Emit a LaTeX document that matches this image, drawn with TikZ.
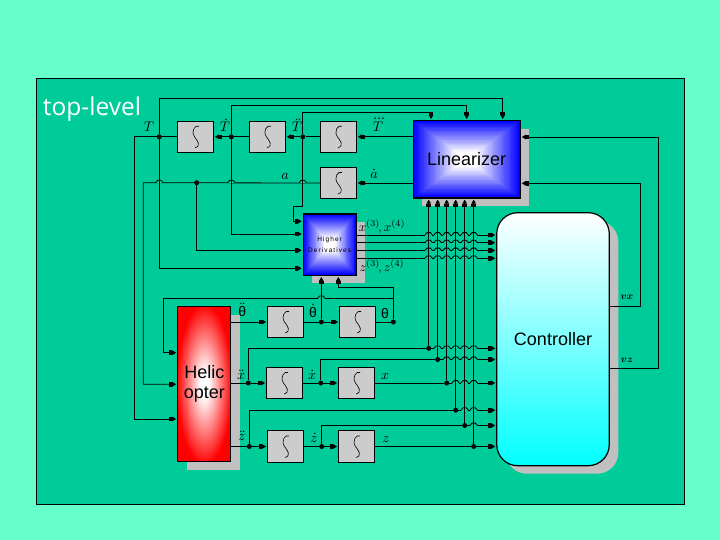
\documentclass[tikz,border=0pt]{standalone}
\usepackage{amsmath}
\usepackage{fontspec}
\setmainfont{Liberation Sans}
\newfontfamily\handfont{Open Sans}
\usetikzlibrary{calc, arrows.meta, shadows}
\definecolor{pagegreen}{HTML}{66FFCC}
\definecolor{panelgreen}{HTML}{00CC99}
\definecolor{boxgrey}{HTML}{CCCCCC}
\definecolor{shadegrey}{HTML}{C0C0C0}
\pgfdeclareradialshading{helifill}{\pgfpoint{0bp}{0bp}}{color(0bp)=(white); color(4bp)=(white); color(26bp)=(red); color(50bp)=(red)}
\tikzset{
    wiretip/.tip={Square[length=3pt,width=4.5pt,sep=0pt]Triangle[length=4pt,width=4.5pt]},
    wire/.style={line width=0.8pt},
    tipwire/.style={wire, shorten >=1pt},
    dropgrey/.style={drop shadow={shadow xshift=9pt, shadow yshift=-8pt, opacity=1, fill=shadegrey}},
    jdot/.style={circle, fill=black, inner sep=0pt, minimum size=5pt},
    intbox/.style={draw, fill=boxgrey, line width=0.9pt, inner sep=0pt, minimum width=36pt, minimum height=31.5pt,
        path picture={\draw[line width=0.6pt, shift={(path picture bounding box.center)}]
            (3.5,-10.5) .. controls (0,-12.5) and (-5,-6) .. (-1,0) .. controls (2,4) and (6,9) .. (-0.5,11);}},
    pyrbox/.style={draw, line width=1.2pt, inner sep=0pt, dropgrey,
        path picture={
            \coordinate (pbl) at (path picture bounding box.south west);
            \coordinate (ptr) at (path picture bounding box.north east);
            \foreach \k in {0,...,24}{
                \pgfmathsetmacro{\tint}{100-\k*100/24}
                \fill[blue!\tint!white] ($(pbl)!\k/60!(ptr)$) rectangle ($(ptr)!\k/60!(pbl)$);
            }}},
    wirehop/.pic={
        \draw[panelgreen, line width=1.6pt] (-3.4,0) -- (3.4,0);
        \draw[wire] (0,-3) -- (0,3);
        \draw[wire] (-3.6,0) .. controls (-2.6,-0.3) and (-2.8,-2.4) .. (-1.6,-2.4) -- (1.6,-2.4) .. controls (2.8,-2.4) and (2.6,-0.3) .. (3.6,0);
    }
}

\begin{document}
\begin{tikzpicture}[
    x=1pt, y=-1pt,
    >=wiretip,
    lbl/.style={inner sep=0pt, scale=1.4}
]

    % Page and panel
    \useasboundingbox (0,0) rectangle (720,540);
    \fill[pagegreen] (0,0) rectangle (720,540);
    \fill[panelgreen, draw=black, line width=0.8pt] (36.5,78.5) rectangle (684.5,504);
    \node[white, inner sep=0pt, font=\handfont\fontsize{24.5}{24.5}\selectfont] (title) at (92,109.5) {top-level};

    % Blocks
    \node[pyrbox, minimum width=107pt, minimum height=77.5pt] (lin) at (466.7,159.3) {\fontsize{18}{18}\selectfont Linearizer};
    \node[pyrbox, minimum width=53pt, minimum height=61.5pt, align=center] (hider) at (329.7,244.7)
        {\fontsize{6.5}{9}\selectfont H\,i\,g\,h\,e\,r\\[-0.5pt]\fontsize{6.5}{9}\selectfont D\,e\,r\,i\,v\,a\,t\,i\,v\,e\,s};
    \node[draw, line width=1.2pt, shading=helifill, dropgrey, minimum width=53pt, minimum height=155pt, inner sep=0pt, align=center,
        font=\fontsize{18}{20}\selectfont] (heli) at (204.3,384.3) {Helic\\opter};
    \node[draw, line width=1.2pt, top color=white, bottom color=cyan, rounded corners=21pt, dropgrey, minimum width=112.5pt, minimum height=253pt,
        inner sep=0pt, font=\fontsize{18}{18}\selectfont] (ctrl) at (553,339.2) {Controller};

    % Integrators
    \node[intbox] (intT) at (195.5,136.8) {};
    \node[intbox] (intTd) at (267.4,136.8) {};
    \node[intbox] (intTdd) at (338.4,136.8) {};
    \node[intbox] (inta) at (338.4,183) {};
    \node[intbox] (intthd) at (285.5,322) {};
    \node[intbox] (intth) at (357.5,322) {};
    \node[intbox] (intxd) at (284.5,383) {};
    \node[intbox] (intx) at (356.5,383) {};
    \node[intbox] (intzd) at (285.5,446.5) {};
    \node[intbox] (intz) at (356.5,446.5) {};

    % Junctions
    \node[jdot] (jT) at (159.3,136.8) {};
    \node[jdot] (jTd) at (231.3,136.8) {};
    \node[jdot] (jTdd) at (302.8,136.8) {};
    \node[jdot] (ja) at (196.7,182.7) {};
    \node[jdot] (jth) at (321.3,322) {};
    \node[jdot] (jthe) at (393.3,322) {};
    \node[jdot] (jxdd) at (248.3,383) {};
    \node[jdot] (jxd) at (320.7,383) {};
    \node[jdot] (jzdd) at (249.3,446.5) {};
    \node[jdot] (jzd) at (321.7,446.5) {};
    \node[jdot] (jL1) at (428.7,348.3) {};
    \node[jdot] (jL2) at (437.7,359.5) {};
    \node[jdot] (jL3) at (446.7,383) {};
    \node[jdot] (jL4) at (455.7,410.2) {};
    \node[jdot] (jL5) at (464.7,425.5) {};
    \node[jdot] (jL6) at (473.7,446.5) {};

    % Routing corners
    \coordinate (topT) at (502.7,98.3);
    \coordinate (topTd) at (466.7,105.3);
    \coordinate (topTdd) at (431,112.7);
    \coordinate (leftT) at (134.3,136.8);
    \coordinate (lefta) at (143.3,182.7);
    \coordinate (hdA) at (293.3,206);
    \coordinate (hdB) at (338.3,287.7);
    \coordinate (back) at (163.3,298.3);
    \coordinate (vxc) at (640.3,306);
    \coordinate (vzc) at (658.3,368.3);

    % T chain
    \draw[tipwire, ->] (lin.west |- intTdd) -- (intTdd.east);
    \draw[wire] (intTdd.west) -- (jTdd);
    \draw[tipwire, ->] (jTdd) -- (intTd.east);
    \draw[wire] (intTd.west) -- (jTd);
    \draw[tipwire, ->] (jTd) -- (intT.east);
    \draw[tipwire, ->] (intT.west) -- (leftT) |- (heli.west |- 0,419);
    \draw[tipwire, ->] (jT) |- (topT) -- (topT |- lin.north);
    \draw[tipwire, ->] (jTd) |- (topTd) -- (topTd |- lin.north);
    \draw[tipwire, ->] (jTdd) |- (topTdd) -- (topTdd |- lin.north);

    % a chain
    \draw[tipwire, ->] (lin.west |- inta) -- (inta.east);
    \draw[tipwire, ->] (inta.west) -- (lefta) |- (heli.west);

    % Higher derivatives inputs
    \draw[tipwire, ->] (jTdd) |- (hdA) |- (hider.west |- 0,221.3);
    \draw[tipwire, ->] (jTd) |- (hider.west |- 0,234);
    \draw[tipwire, ->] (ja) |- (hider.west |- 0,250.3);
    \draw[tipwire, ->] (jT) |- (hider.west |- 0,268.3);
    \draw[tipwire, ->] (jth) -- (jth |- hider.south);
    \draw[tipwire, ->] (jthe) |- (hdB) -- (hdB |- hider.south);
    \draw[tipwire, ->] (jthe |- back) -- (back) |- (heli.west |- 0,352.7);

    % Theta row
    \draw[tipwire, ->] (heli.east |- intthd) -- (intthd.west);
    \draw[wire] (intthd.east) -- (jth);
    \draw[tipwire, ->] (jth) -- (intth.west);
    \draw[wire] (intth.east) -- (jthe);

    % x row
    \draw[wire] (heli.east |- jxdd) -- (jxdd);
    \draw[tipwire, ->] (jxdd) -- (intxd.west);
    \draw[wire] (intxd.east) -- (jxd);
    \draw[tipwire, ->] (jxd) -- (intx.west);

    % z row
    \draw[wire] (heli.east |- jzdd) -- (jzdd);
    \draw[tipwire, ->] (jzdd) -- (intzd.west);
    \draw[wire] (intzd.east) -- (jzd);
    \draw[tipwire, ->] (jzd) -- (intz.west);

    % Feedback to controller and linearizer
    \draw[wire] (jxdd) |- (jL1);
    \draw[wire] (jxd) |- (jL2);
    \draw[wire] (intx.east) -- (jL3);
    \draw[wire] (jzdd) |- (jL4);
    \draw[wire] (jzd) |- (jL5);
    \draw[wire] (intz.east) -- (jL6);
    \foreach \j in {jL1,jL2,jL3,jL4,jL5,jL6}{
        \draw[tipwire, ->] (\j) -- (\j -| ctrl.west);
        \draw[tipwire, ->] (\j) -- (\j |- lin.south);
    }

    % Higher derivatives outputs
    \foreach \yy in {235,242.7,250.5,258.3}
        \draw[tipwire, ->] (hider.east |- 0,\yy) -- (ctrl.west |- 0,\yy);

    % Controller outputs
    \draw[tipwire, ->] (ctrl.east |- vxc) -- (vxc) |- (lin.east |- 0,183.3);
    \draw[tipwire, ->] (ctrl.east |- vzc) -- (vzc) |- (lin.east |- 0,137);

    % Wire crossings
    \foreach \hx in {159.3,231.3,302.8}
        \pic at (\hx,182.7) {wirehop};
    \pic at (321.3,298.3) {wirehop};
    \foreach \yy in {235,242.7,250.5,258.3}
        \foreach \hx in {428.7,437.7,446.7,455.7,464.7,473.7}
            \pic at (\hx,\yy) {wirehop};
    \foreach \hx in {437.7,446.7,455.7,464.7,473.7}
        \pic at (\hx,348.3) {wirehop};
    \foreach \hx in {446.7,455.7,464.7,473.7}
        \pic at (\hx,359.5) {wirehop};
    \foreach \hx in {455.7,464.7,473.7}
        \pic at (\hx,383) {wirehop};
    \foreach \hx in {464.7,473.7}
        \pic at (\hx,410.2) {wirehop};
    \pic at (473.7,425.5) {wirehop};

    % Labels & Annotations
    \node[lbl] (lT) at (149,126.5) {$T$};
    \node[lbl] (lTd) at (225,125.5) {$\dot{T}$};
    \node[lbl] (lTdd) at (297,125.5) {$\ddot{T}$};
    \node[lbl] (lTddd) at (378,125.5) {$\dddot{T}$};
    \node[lbl] (la) at (285,176) {$a$};
    \node[lbl] (lad) at (374,174) {$\dot{a}$};
    \node[lbl] (lthdd) at (242.3,310) {$\ddot{\mbox{θ}}$};
    \node[lbl] (lthd) at (313,310.5) {$\dot{\mbox{θ}}$};
    \node[lbl] (lth) at (385,313) {θ};
    \node[lbl] (lxdd) at (241,374.5) {$\ddot{x}$};
    \node[lbl] (lxd) at (312,374.5) {$\dot{x}$};
    \node[lbl] (lx) at (385,376.5) {$x$};
    \node[lbl] (lzdd) at (241.7,435.5) {$\ddot{z}$};
    \node[lbl] (lzd) at (314,437.5) {$\dot{z}$};
    \node[lbl] (lz) at (386,439) {$z$};
    \node[lbl, scale=0.93] (lx34) at (382,226.5) {$x^{(3)}\!,x^{(4)}$};
    \node[lbl, scale=0.93] (lz34) at (382,266.5) {$z^{(3)}\!,z^{(4)}$};
    \node[lbl, scale=0.72] (lvx) at (627,297) {$\boldsymbol{vx}$};
    \node[lbl, scale=0.72] (lvz) at (627,360.5) {$\boldsymbol{vz}$};

\end{tikzpicture}
\end{document}
